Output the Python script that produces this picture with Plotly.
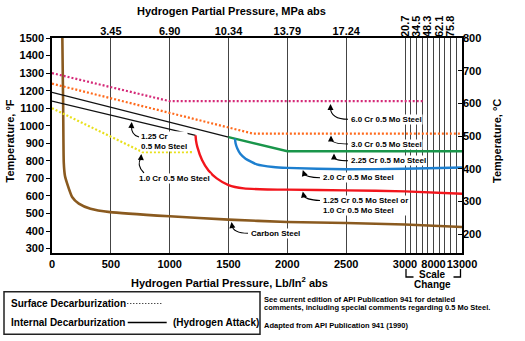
import plotly.graph_objects as go

# ---- Pressure axis: linear to 3000 psi, compressed "scale change" from 3000 to 13000 psi
SCALE_BREAK = 3000
SCALE_K = 0.04844


def to_axis(p):
    return p if p <= SCALE_BREAK else SCALE_BREAK + (p - SCALE_BREAK) * SCALE_K


def to_axis_list(ps):
    return [to_axis(p) for p in ps]


# ---- Curve data: hydrogen partial pressure (psia) and temperature (°F)
cr60_surf_p = [0, 1000, 6200]
cr60_surf_t = [1300, 1140, 1140]

cr30_surf_p = [0, 1710, 13000]
cr30_surf_t = [1240, 955, 955]

cr10_surf_p = [0, 770, 1200]
cr10_surf_t = [1100, 850, 850]

cr225_int_p = [0, 1500]
cr225_int_t = [1190, 935]
cr225_green_p = [1500, 2000, 13000]
cr225_green_t = [935, 855, 855]

cr125_int_p = [0, 1220]
cr125_int_t = [1140, 945]

cr125_red_p = [1220, 1224, 1235, 1275, 1330, 1400, 1500, 1630, 1830, 2000, 2500, 3000, 13000]
cr125_red_t = [945, 915, 880, 805, 745, 700, 662, 643, 637, 636, 632, 626, 613]

cr20_blue_p = [1555, 1560, 1575, 1600, 1645, 1740, 1880, 2000, 2500, 3000, 13000]
cr20_blue_t = [926, 900, 870, 840, 812, 780, 765, 760, 752, 755, 762]

carbon_p = [88, 95, 100, 110, 129, 171, 228, 327, 494, 1000, 1500, 2000, 2500, 3000, 13000]
carbon_t = [1500, 1100, 790, 715, 670, 594, 556, 527, 508, 484, 465, 452, 446, 437, 423]

# ---- Axis ticks
psi_ticks = [0, 500, 1000, 1500, 2000, 2500, 3000, 4000, 5000, 6000, 7000,
             8000, 9000, 10000, 11000, 12000, 13000]
psi_labels = ["0", "500", "1000", "1500", "2000", "2500", "3000", "", "", "", "",
              "8000", "", "", "", "", "13000"]
mpa_ticks_low = [500, 1000, 1500, 2000, 2500]
mpa_labels_low = ["3.45", "6.90", "10.34", "13.79", "17.24"]
mpa_ticks_high = [3000, 5000, 7000, 9000, 11000]
mpa_labels_high = ["20.7", "34.5", "48.3", "62.1", "75.8"]
degf_ticks = list(range(300, 1501, 100))
degc_ticks = list(range(200, 801, 100))

# ---- Figure geometry (pixels)
W, H = 525, 341
PL, PT, PW, PH = 52, 38, 410, 215
XMAX = to_axis(13000)
FONT = "Liberation Sans, Arial, sans-serif"


def px(x):
    return (x - PL) / PW


def py(y):
    return (PT + PH - y) / PH


fig = go.Figure()


def add_curve(ps, ts, color, width, dash="solid", shape="linear"):
    fig.add_trace(go.Scatter(
        x=to_axis_list(ps), y=ts, mode="lines",
        line=dict(color=color, width=width, dash=dash, shape=shape, smoothing=0.5),
        hoverinfo="skip", showlegend=False))


DOT = "2px,2px"
add_curve(carbon_p, carbon_t, "#8a5a1f", 2.6, shape="spline")
add_curve(cr60_surf_p, cr60_surf_t, "#d52a78", 2.2, dash=DOT)
add_curve(cr30_surf_p, cr30_surf_t, "#ff6a1c", 2.2, dash=DOT)
add_curve(cr10_surf_p, cr10_surf_t, "#e8e01c", 2.2, dash=DOT)
add_curve(cr225_int_p, cr225_int_t, "#111111", 1.3)
add_curve(cr125_int_p, cr125_int_t, "#111111", 1.3)
add_curve(cr225_green_p, cr225_green_t, "#19954a", 2.4)
add_curve(cr20_blue_p, cr20_blue_t, "#1d7fcf", 2.4, shape="spline")
add_curve(cr125_red_p, cr125_red_t, "#f2151c", 2.4, shape="spline")

# empty traces so the secondary axes get drawn
fig.add_trace(go.Scatter(x=[], y=[], xaxis="x2", showlegend=False))
fig.add_trace(go.Scatter(x=[], y=[], xaxis="x3", showlegend=False))
fig.add_trace(go.Scatter(x=[], y=[], yaxis="y2", showlegend=False))

tick_font = dict(family=FONT, size=11, color="black", weight="bold")

fig.update_layout(
    width=W, height=H, autosize=False,
    margin=dict(l=PL, r=W - PL - PW, t=PT, b=H - PT - PH, pad=0),
    paper_bgcolor="white", plot_bgcolor="white",
    showlegend=False,
    xaxis=dict(range=[0, XMAX], tickvals=to_axis_list(psi_ticks), ticktext=psi_labels,
               showgrid=True, gridcolor="#444444", gridwidth=1.2, zeroline=False,
               ticks="", showline=True, linecolor="black", linewidth=1.5, mirror=True,
               tickfont=tick_font, tickangle=0),
    xaxis2=dict(range=[0, XMAX], overlaying="x", side="top", anchor="y",
                tickvals=to_axis_list(mpa_ticks_low), ticktext=mpa_labels_low,
                showgrid=False, zeroline=False, ticks="", showline=False,
                tickfont=tick_font, tickangle=0),
    xaxis3=dict(range=[0, XMAX], overlaying="x", side="top", anchor="y",
                tickvals=to_axis_list(mpa_ticks_high), ticktext=mpa_labels_high,
                showgrid=False, zeroline=False, ticks="", showline=False,
                tickfont=tick_font, tickangle=-90),
    yaxis=dict(range=[275, 1500], tickvals=degf_ticks, showgrid=False, zeroline=False,
               ticks="outside", ticklen=4, tickwidth=1.3, tickcolor="black",
               showline=True, linecolor="black", linewidth=1.5, mirror=True,
               tickfont=tick_font),
    yaxis2=dict(range=[142, 800], overlaying="y", side="right", anchor="x",
                tickvals=degc_ticks, showgrid=False, zeroline=False,
                ticks="inside", ticklen=4, tickwidth=1.3, tickcolor="black",
                showline=False, tickfont=tick_font),
)

annotations = []
shapes = []


def text(x, y, s, size, xanchor="left", angle=0, bg=None, align="left"):
    a = dict(x=px(x), y=py(y), xref="paper", yref="paper", text=s, showarrow=False,
             xanchor=xanchor, yanchor="middle", textangle=angle, align=align,
             font=dict(family=FONT, size=size, color="black", weight="bold"),
             borderpad=0)
    if bg:
        a["bgcolor"] = bg
    annotations.append(a)


def hook(x0, y0, cx, cy, x1, y1, tipx, tipy):
    shapes.append(dict(type="path", xref="paper", yref="paper",
                       path=f"M {px(x0)},{py(y0)} Q {px(cx)},{py(cy)} {px(x1)},{py(y1)}",
                       line=dict(color="black", width=1.1)))
    annotations.append(dict(x=px(tipx), y=py(tipy), xref="paper", yref="paper", text="",
                            showarrow=True, arrowhead=2, arrowsize=1.1, arrowwidth=1.1,
                            arrowcolor="black", ax=x1 - tipx, ay=y1 - tipy, standoff=0))


# axis titles
text(231.7, 11, "Hydrogen Partial Pressure, MPa abs", 11, xanchor="center")
text(229, 282, "Hydrogen Partial Pressure, Lb/In<sup>2</sup> abs", 11, xanchor="center")
text(9.5, 141, "Temperature, °F", 11, xanchor="center", angle=-90)
text(497, 141, "Temperature, °C", 11, xanchor="center", angle=-90)

# scale change marker
text(432, 274, "Scale", 10, xanchor="center")
text(432, 284.5, "Change", 10, xanchor="center")
shapes.append(dict(type="path", xref="paper", yref="paper",
                   path=f"M {px(406)},{py(269)} L {px(406)},{py(277)} L {px(413.5)},{py(277)}",
                   line=dict(color="black", width=1.3)))
shapes.append(dict(type="path", xref="paper", yref="paper",
                   path=f"M {px(453.5)},{py(277)} L {px(460.5)},{py(277)} L {px(460.5)},{py(269)}",
                   line=dict(color="black", width=1.3)))

# curve labels
LBL = 8
text(350, 119.3, "6.0 Cr 0.5 Mo Steel", LBL, bg="white")
text(350, 144, "3.0 Cr 0.5 Mo Steel", LBL, bg="white")
text(350, 160.7, "2.25 Cr 0.5 Mo Steel", LBL, bg="white")
text(321.5, 177.7, "2.0 Cr 0.5 Mo Steel", LBL, bg="white")
text(321.5, 205.5, "1.25 Cr 0.5 Mo Steel or<br>1.0 Cr 0.5 Mo Steel", LBL, bg="white")
text(250, 233.3, "Carbon Steel", LBL, bg="white")
text(139.5, 141, "1.25 Cr<br>0.5 Mo Steel", LBL, bg="white")
text(138.3, 178.3, "1.0 Cr 0.5 Mo Steel", LBL, bg="white")

hook(348, 119.3, 331, 119.3, 330.5, 108, 330.5, 104)
hook(348, 144, 332, 144, 331, 139, 331, 135.5)
hook(348, 160.7, 334, 160.7, 334, 157, 334, 153.5)
hook(320, 177.7, 306, 177.5, 304, 173.5, 302.8, 170)
hook(320, 200.5, 305, 200, 303.5, 195, 302.8, 191.5)
hook(248, 233.3, 233, 233, 232, 225.5, 231.5, 222)
hook(139, 137, 131, 135, 131.5, 125.5, 131.7, 122)
hook(144, 173, 136, 165, 141, 158, 141.3, 154)

# legend box
shapes.append(dict(type="rect", xref="paper", yref="paper",
                   x0=px(4), x1=px(260), y0=py(291.7), y1=py(334.3),
                   line=dict(color="#222222", width=1.5)))
text(10, 303.3, "Surface Decarburization", 10)
shapes.append(dict(type="line", xref="paper", yref="paper",
                   x0=px(127.3), x1=px(161.7), y0=py(303.5), y1=py(303.5),
                   line=dict(color="black", width=1, dash="1px,2px")))
text(10, 322.3, "Internal Decarburization", 10)
shapes.append(dict(type="line", xref="paper", yref="paper",
                   x0=px(127.7), x1=px(166.7), y0=py(322.5), y1=py(322.5),
                   line=dict(color="black", width=1.3)))
text(172.3, 322.3, "(Hydrogen Attack)", 10)

# notes
text(263.3, 299.5, "See current edition of API Publication 941 for detailed", 7.5)
text(263.3, 307.5, "comments, including special comments regarding 0.5 Mo Steel.", 7.5)
text(263.3, 325.5, "Adapted from API Publication 941 (1990)", 7.5)

fig.update_layout(annotations=annotations, shapes=shapes)
fig.write_html("out.html")
